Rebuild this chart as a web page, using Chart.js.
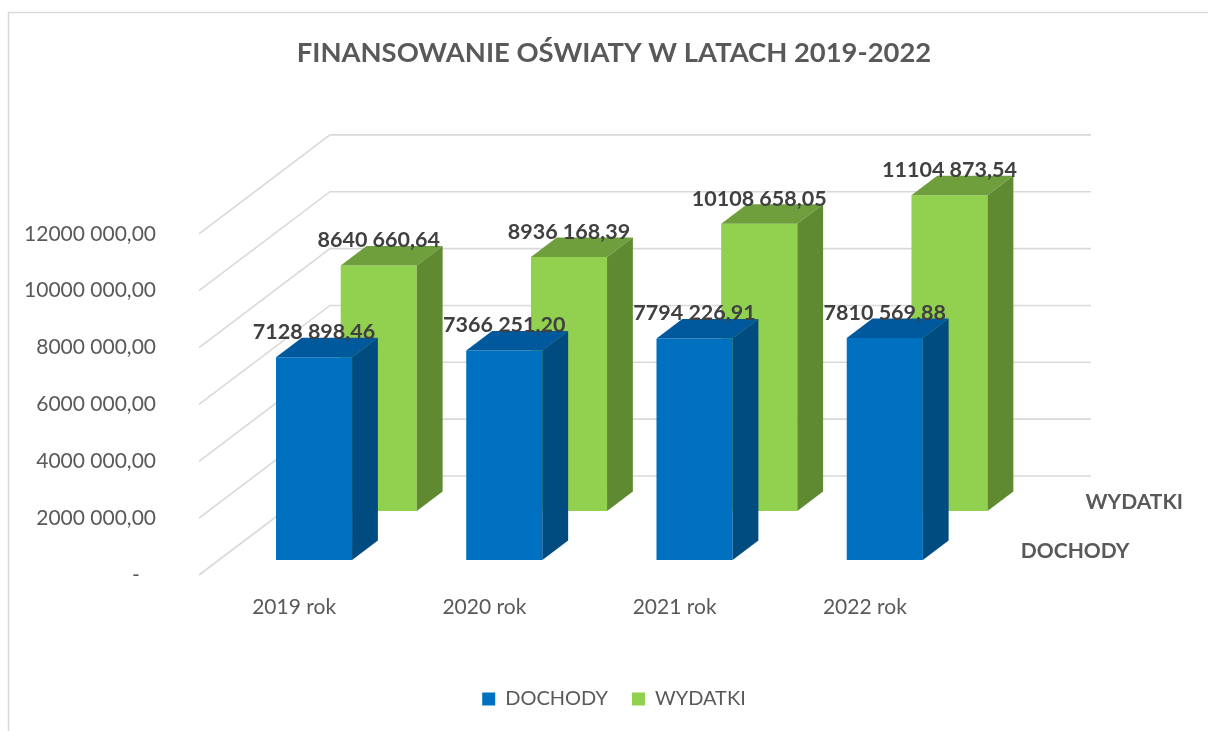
<!DOCTYPE html>
<html><head><meta charset="utf-8">
<script src="https://cdn.jsdelivr.net/npm/chart.js@4.4.0/dist/chart.umd.min.js"></script>
<style>html,body{margin:0;padding:0;background:#fff;overflow:hidden}canvas{display:block}</style>
</head><body>
<canvas id="c" width="1208" height="731"></canvas>
<script>
// ---- data ----
const categories = ['2019 rok', '2020 rok', '2021 rok', '2022 rok'];
const seriesNames = ['DOCHODY', 'WYDATKI'];
const dochody = [7128898.46, 7366251.20, 7794226.91, 7810569.88];
const wydatki = [8640660.64, 8936168.39, 10108658.05, 11104873.54];
const yTicks = [0, 2000000, 4000000, 6000000, 8000000, 10000000, 12000000];
const titleText = 'FINANSOWANIE OŚWIATY W LATACH 2019-2022';

// ---- style / geometry ----
const FONT = 'Lato';
const GRAY = '#595959';
const geo = { wallDx: 131, wallDy: 99, rowFront: [0.152, 0.646], barDepth: 0.197 };
const faceColors = [
  { front: '#0070C0', top: '#00599D', side: '#004B80' },
  { front: '#92D050', top: '#6F9F3C', side: '#5F8A31' }
];

function fmt(v) {
  const s = Math.abs(v).toFixed(2);
  const parts = s.split('.');
  const i = parts[0];
  const ip = i.length > 3 ? i.slice(0, -3) + ' ' + i.slice(-3) : i;
  return ip + ',' + parts[1];
}
function shift(f) { return { dx: f * geo.wallDx, dy: -f * geo.wallDy }; }

const threeD = {
  id: 'threeD',
  beforeDraw(chart) {
    const { ctx, chartArea: a, scales: { y } } = chart;
    ctx.save();
    ctx.fillStyle = '#fff';
    ctx.fillRect(0, 0, chart.width, chart.height);
    ctx.strokeStyle = '#d9d9d9';
    ctx.lineWidth = 1.5;
    ctx.strokeRect(8.5, 12.5, chart.width + 40, chart.height + 40);
    ctx.strokeStyle = '#d9d9d9';
    ctx.lineWidth = 1.6;
    yTicks.forEach(v => {
      const py = y.getPixelForValue(v);
      ctx.beginPath();
      ctx.moveTo(a.left, py);
      ctx.lineTo(a.left + geo.wallDx, py - geo.wallDy);
      ctx.lineTo(a.right + geo.wallDx, py - geo.wallDy);
      ctx.stroke();
    });
    ctx.restore();
  },
  afterDatasetsUpdate(chart) {
    chart.data.datasets.forEach((ds, i) => {
      const meta = chart.getDatasetMeta(i);
      const s = shift(geo.rowFront[i]);
      meta.data.forEach(el => { el.x += s.dx; el.y += s.dy; el.base += s.dy; });
    });
  },
  afterDatasetDraw(chart, args) {
    const { ctx } = chart;
    const meta = args.meta;
    const c = faceColors[meta.index];
    const d = shift(geo.barDepth);
    ctx.save();
    meta.data.forEach(el => {
      const { x, y, base, width } = el.getProps(['x', 'y', 'base', 'width'], true);
      const l = x - width / 2, r = x + width / 2;
      ctx.fillStyle = c.top;
      ctx.beginPath();
      ctx.moveTo(l, y); ctx.lineTo(r, y); ctx.lineTo(r + d.dx, y + d.dy); ctx.lineTo(l + d.dx, y + d.dy);
      ctx.closePath(); ctx.fill();
      ctx.fillStyle = c.side;
      ctx.beginPath();
      ctx.moveTo(r, y); ctx.lineTo(r + d.dx, y + d.dy); ctx.lineTo(r + d.dx, base + d.dy); ctx.lineTo(r, base);
      ctx.closePath(); ctx.fill();
    });
    ctx.restore();
  },
  afterDatasetsDraw(chart) {
    const { ctx, chartArea: a } = chart;
    ctx.save();
    ctx.font = 'bold 21.5px ' + FONT;
    ctx.textAlign = 'center';
    ctx.textBaseline = 'middle';
    ctx.fillStyle = '#404040';
    for (let i = chart.data.datasets.length - 1; i >= 0; i--) {
      const meta = chart.getDatasetMeta(i);
      meta.data.forEach((el, j) => {
        ctx.fillText(fmt(chart.data.datasets[i].data[j]), el.x, el.y - 25);
      });
    }
    // series (depth) axis labels
    ctx.font = 'bold 21px ' + FONT;
    ctx.textAlign = 'left';
    ctx.fillStyle = GRAY;
    seriesNames.forEach((name, i) => {
      const f = geo.rowFront[i] + geo.barDepth / 2;
      const s = shift(f);
      ctx.fillText(name, a.right + s.dx + 28, a.bottom + s.dy + 1);
    });
    ctx.restore();
  }
};

const chart = new Chart(document.getElementById('c'), {
  type: 'bar',
  data: {
    labels: categories,
    datasets: [
      { label: seriesNames[0], data: dochody, backgroundColor: faceColors[0].front, yAxisID: 'y', clip: false },
      { label: seriesNames[1], data: wydatki, backgroundColor: faceColors[1].front, yAxisID: 'y', clip: false }
    ]
  },
  options: {
    responsive: false,
    animation: false,
    devicePixelRatio: 1,
    layout: { padding: { left: 20, right: 0, top: 0, bottom: 12 } },
    datasets: { bar: { grouped: false, categoryPercentage: 1, barPercentage: 0.4, clip: false } },
    scales: {
      x: {
        grid: { display: false, drawTicks: false },
        border: { display: false },
        ticks: { padding: 20, color: GRAY, font: { family: FONT, size: 21 } },
        afterFit: s => { s.height = 90; }
      },
      y: {
        min: 0, max: 12000000,
        afterBuildTicks: s => { s.ticks = yTicks.map(v => ({ value: v })); },
        grid: { display: false, drawTicks: false },
        border: { display: false },
        ticks: {
          padding: 43, color: GRAY, font: { family: FONT, size: 21 },
          callback: v => (v === 0 ? '-   ' : fmt(v))
        },
        afterFit: s => { s.width = 179; }
      },
      yR: {
        position: 'right', display: true,
        grid: { display: false, drawTicks: false },
        border: { display: false },
        ticks: { display: false },
        afterFit: s => { s.width = 248; }
      }
    },
    plugins: {
      title: {
        display: true, text: titleText, color: GRAY,
        font: { family: FONT, size: 27.4, weight: 'bold' },
        padding: { top: 37, bottom: 164 }
      },
      legend: {
        position: 'bottom',
        labels: { boxWidth: 13, boxHeight: 13, padding: 24, color: GRAY, font: { family: FONT, size: 20 } }
      },
      tooltip: { enabled: false }
    }
  },
  plugins: [threeD]
});
</script>
</body></html>
